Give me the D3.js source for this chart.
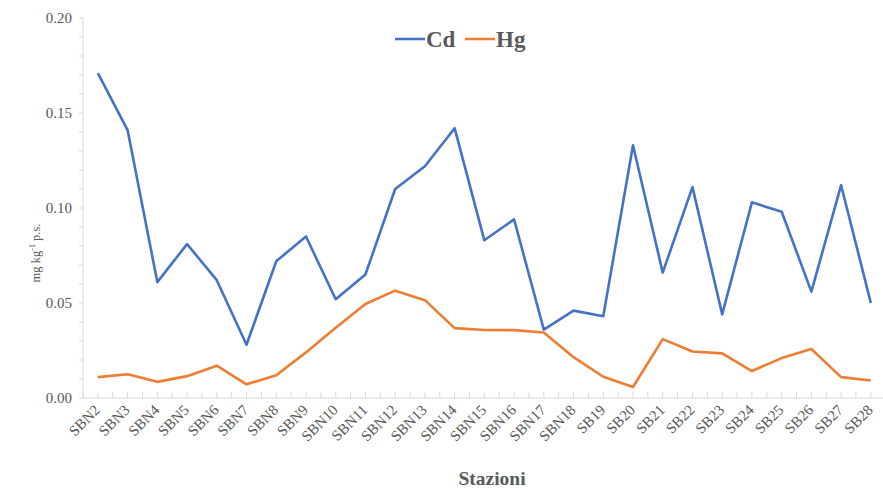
<!DOCTYPE html>
<html><head><meta charset="utf-8">
<script src="https://cdn.jsdelivr.net/npm/d3@7"></script>
<style>body{margin:0;background:#fff}svg{display:block}</style>
</head><body>
<script>
const categories = ["SBN2","SBN3","SBN4","SBN5","SBN6","SBN7","SBN8","SBN9","SBN10","SBN11","SBN12","SBN13","SBN14","SBN15","SBN16","SBN17","SBN18","SB19","SB20","SB21","SB22","SB23","SB24","SB25","SB26","SB27","SB28"];
const cd = [0.171,0.141,0.061,0.081,0.062,0.028,0.072,0.085,0.052,0.065,0.110,0.122,0.142,0.083,0.094,0.036,0.046,0.043,0.133,0.066,0.111,0.044,0.103,0.098,0.056,0.112,0.050];
const hg = [0.011,0.0125,0.0085,0.0115,0.017,0.0072,0.012,0.024,0.037,0.0495,0.0565,0.0515,0.0368,0.0358,0.0357,0.0345,0.0215,0.0112,0.0058,0.031,0.0245,0.0235,0.0142,0.021,0.0258,0.011,0.0092];
const yTicks = [0,0.05,0.10,0.15,0.20];
const seriesNames = ["Cd","Hg"];
const colors = ["#4472C4","#ED7D31"];

(function(){
const W=883,H=491;
const svg=d3.select("body").append("svg").attr("width",W).attr("height",H);
const pLeft=83, pTop=18, pBottom=398, bandW=29.73;
const x=d3.scalePoint().domain(categories).range([pLeft, pLeft+bandW*categories.length]).padding(0.5);
const y=d3.scaleLinear().domain([0,0.2]).range([pBottom,pTop]);
const serif="'Liberation Serif','Times New Roman',serif";
const gray="#595959", axisCol="#d9d9d9";

// y axis line and minor ticks
svg.append("line").attr("x1",pLeft).attr("x2",pLeft).attr("y1",pTop).attr("y2",pBottom).attr("stroke",axisCol);
const minor=d3.range(0,21).map(i=>i/100);
svg.selectAll(".ymt").data(minor).enter().append("line")
  .attr("x1",pLeft-4).attr("x2",pLeft).attr("y1",d=>y(d)).attr("y2",d=>y(d)).attr("stroke",axisCol);
svg.selectAll(".ytl").data(yTicks).enter().append("text")
  .attr("x",72).attr("y",d=>y(d)+5).attr("text-anchor","end")
  .attr("font-family",serif).attr("font-size",15).attr("fill",gray).text(d=>d.toFixed(2));

// x axis
svg.append("line").attr("x1",pLeft).attr("x2",W).attr("y1",pBottom).attr("y2",pBottom).attr("stroke",axisCol);
const xt=[];
categories.forEach((c,i)=>{xt.push(x(c)-bandW/2); xt.push(x(c));});
xt.push(x(categories[categories.length-1])+bandW/2);
svg.selectAll(".xmt").data(xt).enter().append("line")
  .attr("x1",d=>d).attr("x2",d=>d).attr("y1",pBottom-6).attr("y2",pBottom).attr("stroke",axisCol);
svg.selectAll(".xtl").data(categories).enter().append("text")
  .attr("transform",d=>`translate(${x(d)+3},${pBottom+13}) rotate(-45)`)
  .attr("text-anchor","end").attr("font-family",serif).attr("font-size",15).attr("fill",gray).text(d=>d);

// lines
const line=d3.line().x((d,i)=>x(categories[i])).y(d=>y(d));
[cd,hg].forEach((s,k)=>{
  svg.append("path").datum(s).attr("d",line).attr("fill","none")
    .attr("stroke",colors[k]).attr("stroke-width",2.6).attr("stroke-linejoin","round");
});

// legend
const leg=[{x:395,name:seriesNames[0],c:colors[0]},{x:465,name:seriesNames[1],c:colors[1]}];
leg.forEach(l=>{
  svg.append("line").attr("x1",l.x).attr("x2",l.x+30).attr("y1",39).attr("y2",39).attr("stroke",l.c).attr("stroke-width",2.6);
  svg.append("text").attr("x",l.x+31).attr("y",47).attr("font-family",serif).attr("font-weight","bold")
    .attr("font-size",23).attr("fill",gray).text(l.name);
});

// axis titles
svg.append("text").attr("x",492).attr("y",485).attr("text-anchor","middle").attr("font-family",serif)
  .attr("font-weight","bold").attr("font-size",19.5).attr("fill",gray).text("Stazioni");
const yt=svg.append("text").attr("transform","translate(40,253) rotate(-90)").attr("text-anchor","middle")
  .attr("font-family",serif).attr("font-size",12.5).attr("fill",gray);
yt.append("tspan").text("mg kg");
yt.append("tspan").attr("dy",-5).attr("font-size",8).text("-1");
yt.append("tspan").attr("dy",5).text(" p.s.");
})();
</script>
</body></html>
